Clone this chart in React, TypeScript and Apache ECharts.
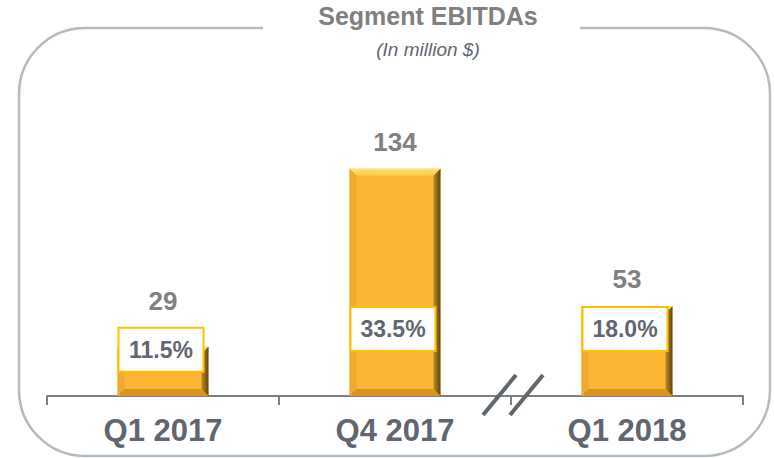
import React, { useEffect, useRef } from "react";
import * as echarts from "echarts";

const categories = ["Q1 2017", "Q4 2017", "Q1 2018"];
const ebitda = [29, 134, 53];
const margins = ["11.5%", "33.5%", "18.0%"];

const FONT = 'Arial, "Liberation Sans", Helvetica, sans-serif';

export default function App() {
  const ref = useRef<HTMLDivElement>(null);

  useEffect(() => {
    if (!ref.current) return;
    const chart = echarts.init(ref.current, undefined, { renderer: "svg" });

    const overlayData = categories.map((c, i) => [i, ebitda[i]]);

    const option: any = {
      animation: false,
      backgroundColor: "#ffffff",
      grid: { left: 47, right: 31, top: 57, bottom: 62, containLabel: false },
      xAxis: {
        type: "category",
        data: categories,
        boundaryGap: true,
        axisLine: { show: true, lineStyle: { color: "#7f7f7f", width: 2 } },
        axisTick: { show: true, length: 9, lineStyle: { color: "#7f7f7f", width: 2 } },
        axisLabel: {
          margin: 19,
          fontSize: 31,
          fontWeight: "bold",
          color: "#5f6670",
          fontFamily: FONT,
        },
        splitLine: { show: false },
      },
      yAxis: {
        type: "value",
        min: 0,
        max: 200,
        show: false,
        splitLine: { show: false },
      },
      series: [
        {
          type: "bar",
          data: ebitda,
          barWidth: "39.2%",
          itemStyle: { color: "#fbb733" },
          z: 2,
        },
        {
          type: "custom",
          data: overlayData,
          encode: { x: 0, y: 1 },
          z: 5,
          renderItem: (params: any, api: any) => {
            const i = api.value(0);
            const v = api.value(1);
            const [cx, top] = api.coord([i, v]);
            const base = api.coord([i, 0])[1];
            const band = api.size([1, 0])[0];
            const w = band * 0.392;
            const l = cx - w / 2;
            const r = cx + w / 2;
            const b = 7;
            const boxW = 85;
            const boxH = 44;
            const boxCy = Math.max(base - 67, top + 3);
            const boxTop = boxCy - boxH / 2;
            const labelY = Math.min(top, boxTop) - 27;
            const children: any[] = [
              {
                type: "polygon",
                shape: { points: [[l, top], [r, top], [r - b, top + b], [l + b, top + b]] },
                style: {
                  fill: {
                    type: "linear", x: 0, y: 0, x2: 0, y2: 1,
                    colorStops: [
                      { offset: 0, color: "#ffe07a" },
                      { offset: 1, color: "#fdc645" },
                    ],
                  },
                },
              },
              {
                type: "polygon",
                shape: { points: [[l, top], [l + b, top + b], [l + b, base - b], [l, base]] },
                style: { fill: "#f2aa2e" },
              },
              {
                type: "polygon",
                shape: { points: [[r, top], [r, base], [r - b, base - b], [r - b, top + b]] },
                style: {
                  fill: {
                    type: "linear", x: 0, y: 0, x2: 1, y2: 0,
                    colorStops: [
                      { offset: 0, color: "#c28c1e" },
                      { offset: 1, color: "#5e4611" },
                    ],
                  },
                },
              },
              {
                type: "polygon",
                shape: { points: [[l, base], [r, base], [r - b, base - b], [l + b, base - b]] },
                style: { fill: "#d9951f" },
              },
              {
                type: "rect",
                shape: { x: cx - boxW / 2 - 2, y: boxTop, width: boxW, height: boxH },
                style: { fill: "#ffffff", stroke: "#ffc000", lineWidth: 2 },
              },
              {
                type: "text",
                x: cx - 2,
                y: boxCy,
                style: {
                  text: margins[params.dataIndex],
                  align: "center",
                  verticalAlign: "middle",
                  fontSize: 23,
                  fontWeight: "bold",
                  fontFamily: FONT,
                  fill: "#5f6670",
                },
              },
              {
                type: "text",
                x: cx,
                y: labelY,
                style: {
                  text: String(v),
                  align: "center",
                  verticalAlign: "middle",
                  fontSize: 26,
                  fontWeight: "bold",
                  fontFamily: FONT,
                  fill: "#808080",
                },
              },
            ];
            return { type: "group", children };
          },
        },
      ],
      graphic: [
        {
          type: "rect",
          z: 0,
          shape: { x: 19, y: 28, width: 751, height: 428, r: 66 },
          style: { fill: "none", stroke: "#b3bac0", lineWidth: 2.5 },
        },
        {
          type: "rect",
          z: 1,
          shape: { x: 263, y: 20, width: 317, height: 16 },
          style: { fill: "#ffffff" },
        },
        {
          type: "text",
          z: 2,
          x: 428,
          y: 16,
          style: {
            text: "Segment EBITDAs",
            align: "center",
            verticalAlign: "middle",
            fontSize: 25,
            fontWeight: "bold",
            fontFamily: FONT,
            fill: "#808080",
          },
        },
        {
          type: "text",
          z: 2,
          x: 428,
          y: 49,
          style: {
            text: "(In million $)",
            align: "center",
            verticalAlign: "middle",
            fontSize: 19,
            fontStyle: "italic",
            fontFamily: FONT,
            fill: "#5f6670",
          },
        },
        {
          type: "line",
          z: 100,
          shape: { x1: 483, y1: 415, x2: 516, y2: 375 },
          style: { stroke: "#5f6670", lineWidth: 4 },
        },
        {
          type: "line",
          z: 100,
          shape: { x1: 510, y1: 415, x2: 543, y2: 375 },
          style: { stroke: "#5f6670", lineWidth: 4 },
        },
      ],
    };

    chart.setOption(option);
    return () => chart.dispose();
  }, []);

  return (
    <div
      ref={ref}
      style={{ position: "fixed", left: 0, top: 0, width: 774, height: 458 }}
    />
  );
}
